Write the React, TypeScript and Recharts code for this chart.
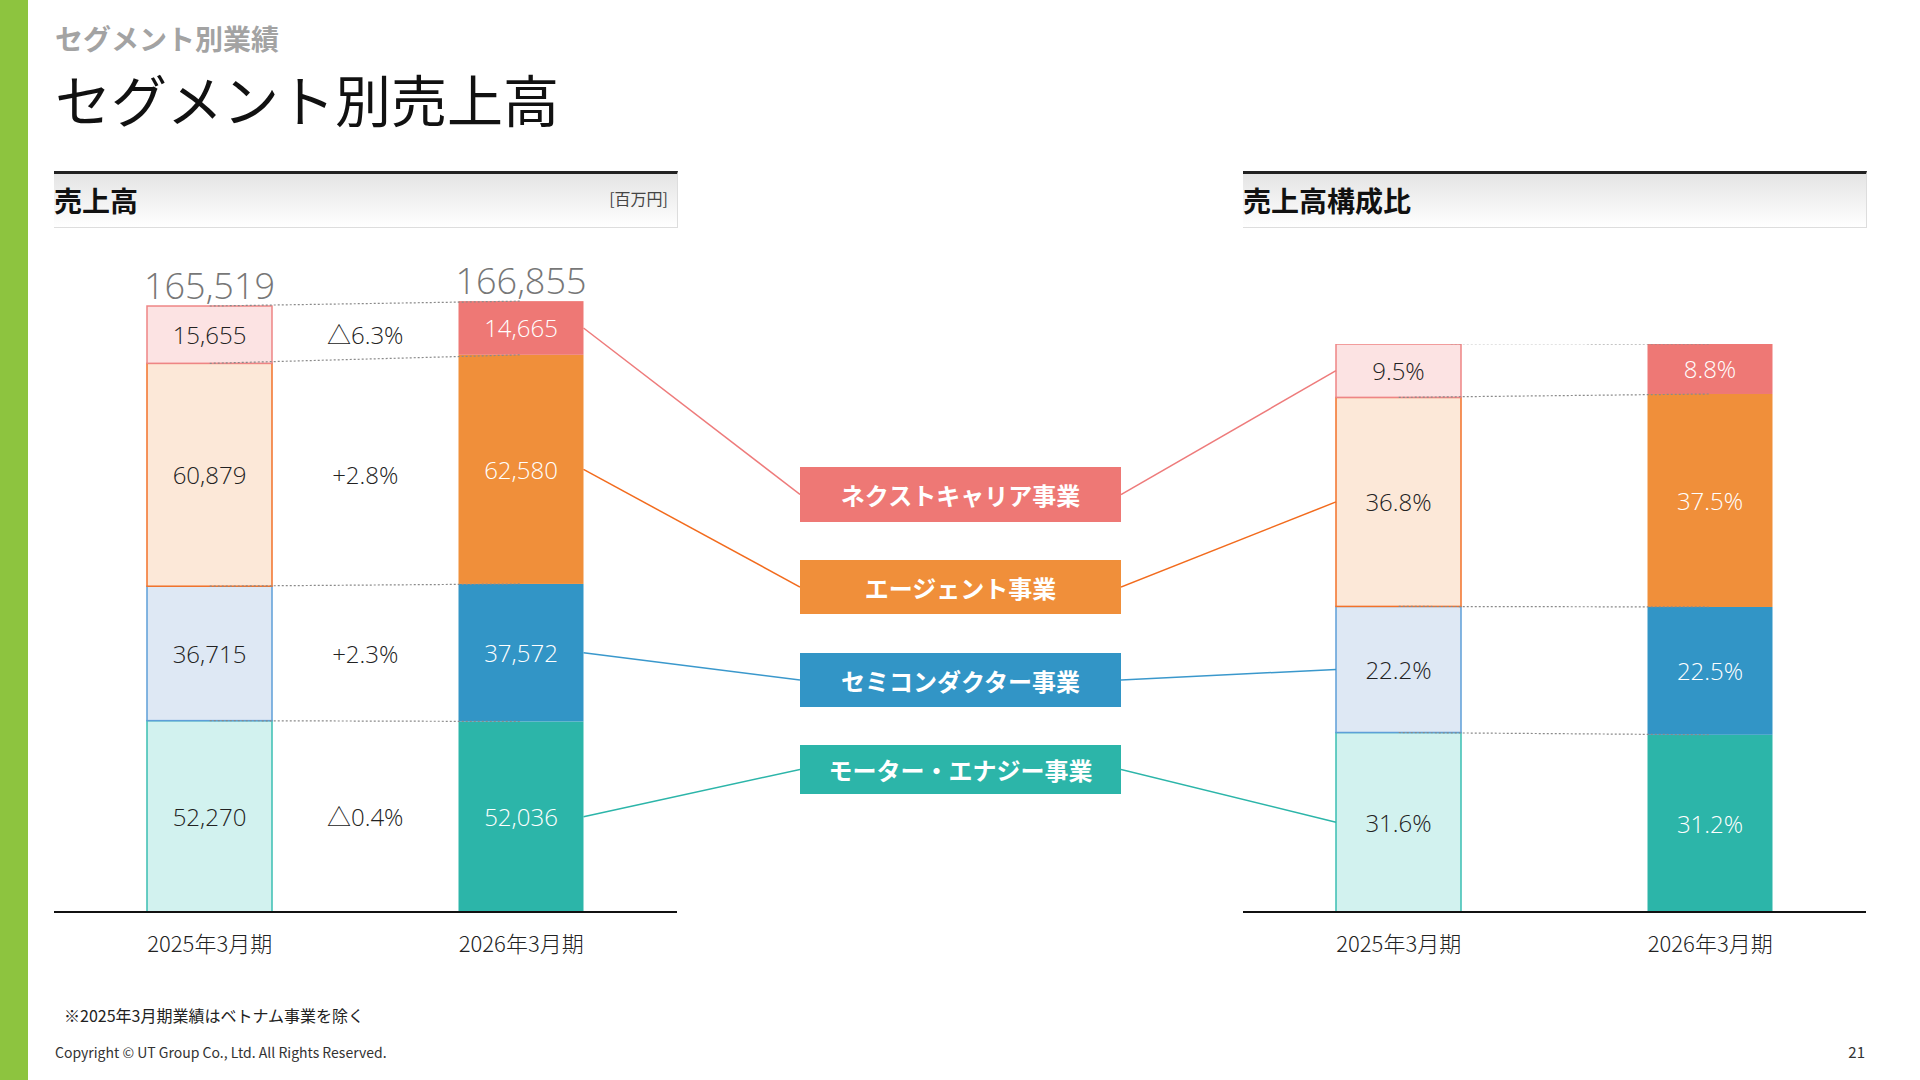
import { Bar, ComposedChart, LabelList, Line, XAxis, YAxis } from "recharts";

// 期
const years = ["2025年3月期", "2026年3月期"];

// セグメント（下から順）
const segmentNames = ["モーター・エナジー事業", "セミコンダクター事業", "エージェント事業", "ネクストキャリア事業"];

// 売上高 [百万円]
const motorSales = [52270, 52036];
const semiSales = [36715, 37572];
const agentSales = [60879, 62580];
const nextSales = [15655, 14665];
const totalSales = [165519, 166855];

// 前期比
const salesChange = ["△0.4%", "+2.3%", "+2.8%", "△6.3%"];

// 売上高構成比 [%]
const motorShare = [31.6, 31.2];
const semiShare = [22.2, 22.5];
const agentShare = [36.8, 37.5];
const nextShare = [9.5, 8.8];

const keys = ["motor", "semi", "agent", "next"];

const solidColors = ["#2CB5A9", "#3295C6", "#F08F3A", "#EE7875"];
const lightColors = ["#D2F2EF", "#DEE8F4", "#FCE8D8", "#FCE3E3"];
const strokeColors = ["#3BBFB3", "#5E9FD8", "#F2722A", "#EE8585"];
const lineColors = ["#2CB5A9", "#3A98CC", "#F26B1D", "#EE7B7B"];

const FONT = "'Noto Sans CJK JP', 'Noto Sans', sans-serif";
const NUM_FONT = "'Open Sans', 'Noto Sans CJK JP', sans-serif";

// layout
const CHART_TOP = 240;
const CHART_H = 720;
const LEFT_X = 54;
const LEFT_W = 746;
const RIGHT_X = 1121;
const RIGHT_W = 745;
const BOX_X = 800;
const BOX_W = 321;
const boxTops = [745, 653, 560, 467];
const boxHeights = [49, 54, 54, 55];
const HALF_BAND = 155.75;

function buildRows(series: number[][]) {
  return years.map((year, i) => {
    const row: Record<string, number | string> = { year };
    let cum = 0;
    series.forEach((s, k) => {
      row[keys[k]] = s[i];
      cum += s[i];
      row["c" + k] = cum;
    });
    return row;
  });
}

const salesRows = buildRows([motorSales, semiSales, agentSales, nextSales]);
const shareRows = buildRows([motorShare, semiShare, agentShare, nextShare]);
const salesSeries = [motorSales, semiSales, agentSales, nextSales];
const shareSeries = [motorShare, semiShare, agentShare, nextShare];

const fmt = (v: number) => v.toLocaleString("en-US");

function segmentShape(k: number, side: "left" | "right") {
  return (props: any) => {
    const { x, y, width, height, index } = props;
    const solid = index === 1;
    const boxY = boxTops[k] + boxHeights[k] / 2 - CHART_TOP;
    let connector = null;
    if (side === "left" && index === 1) {
      connector = (
        <line x1={x + width} y1={y + height / 2} x2={LEFT_W} y2={boxY} stroke={lineColors[k]} strokeWidth={1.5} />
      );
    }
    if (side === "right" && index === 0) {
      connector = <line x1={0} y1={boxY} x2={x} y2={y + height / 2} stroke={lineColors[k]} strokeWidth={1.5} />;
    }
    return (
      <g>
        <rect
          x={x}
          y={y}
          width={width}
          height={height}
          fill={solid ? solidColors[k] : lightColors[k]}
          stroke={solid ? "none" : strokeColors[k]}
          strokeWidth={1.5}
        />
        {connector}
      </g>
    );
  };
}

function segmentLabel(texts: string[]) {
  return (props: any) => {
    const { x, y, width, height, index } = props;
    return (
      <text
        x={Number(x) + Number(width) / 2}
        y={Number(y) + Number(height) / 2}
        textAnchor="middle"
        dominantBaseline="central"
        fill={index === 1 ? "#ffffff" : "#222222"}
        fontSize={24}
        fontWeight={300}
        fontFamily={NUM_FONT}
      >
        {texts[index]}
      </text>
    );
  };
}

function changeLabel(k: number) {
  return (props: any) => {
    const { x, y, width, height, index } = props;
    if (index !== 0) return null;
    return (
      <text
        x={Number(x) + Number(width) / 2 + HALF_BAND}
        y={Number(y) + Number(height) / 2}
        textAnchor="middle"
        dominantBaseline="central"
        fill="#222222"
        fontSize={24}
        fontWeight={300}
        fontFamily={NUM_FONT}
      >
        {salesChange[k]}
      </text>
    );
  };
}

function totalLabel(props: any) {
  const { x, y, width, index } = props;
  return (
    <text
      x={Number(x) + Number(width) / 2}
      y={Number(y) - 21}
      textAnchor="middle"
      dominantBaseline="central"
      fill="#777777"
      fontSize={36}
      fontWeight={300}
      fontFamily={NUM_FONT}
    >
      {fmt(totalSales[index])}
    </text>
  );
}

function YearTick(props: any) {
  const { x, y, payload } = props;
  return (
    <text x={x} y={y + 30} textAnchor="middle" dominantBaseline="central" fill="#222" fontSize={22} fontWeight={300} fontFamily={FONT}>
      {payload.value}
    </text>
  );
}

function Connectors() {
  return keys.map((_, k) => (
    <Line
      key={"c" + k}
      dataKey={"c" + k}
      stroke="#8a8a8a"
      strokeWidth={1.2}
      strokeDasharray="2 2"
      dot={false}
      activeDot={false}
      isAnimationActive={false}
    />
  ));
}

function SectionHeader({ x, title, unit }: { x: number; title: string; unit?: string }) {
  return (
    <div
      style={{
        position: "absolute",
        left: x,
        top: 171,
        width: 624,
        height: 57,
        boxSizing: "border-box",
        borderTop: "3px solid #222",
        borderBottom: "1px solid #ddd",
        borderRight: "1px solid #ddd",
        background: "linear-gradient(#e4e4e4, #ffffff)",
      }}
    >
      <div style={{ position: "absolute", left: 0, top: 6, fontSize: 28, fontWeight: 700, lineHeight: "40px", color: "#111" }}>
        {title}
      </div>
      {unit && (
        <div style={{ position: "absolute", right: 9, top: 12, fontSize: 16, lineHeight: "24px", color: "#444" }}>{unit}</div>
      )}
    </div>
  );
}

export default function App() {
  return (
    <div
      style={{
        position: "absolute",
        left: 0,
        top: 0,
        width: 1920,
        height: 1080,
        background: "#fff",
        fontFamily: FONT,
        overflow: "hidden",
      }}
    >
      <div style={{ position: "absolute", left: 0, top: 0, width: 28, height: 1080, background: "#8DC43F" }} />
      <div style={{ position: "absolute", left: 55, top: 22, fontSize: 28, lineHeight: "32px", fontWeight: 700, color: "#a3a3a3" }}>
        セグメント別業績
      </div>
      <div style={{ position: "absolute", left: 55, top: 68, fontSize: 56, lineHeight: "60px", fontWeight: 400, color: "#111" }}>
        セグメント別売上高
      </div>

      <SectionHeader x={54} title="売上高" unit="[百万円]" />
      <SectionHeader x={1243} title="売上高構成比" />

      <div style={{ position: "absolute", left: LEFT_X, top: CHART_TOP }}>
        <ComposedChart
          width={LEFT_W}
          height={CHART_H}
          data={salesRows}
          margin={{ top: 13, right: LEFT_W - 623, left: 0, bottom: 0 }}
          barSize={125}
          barCategoryGap={0}
        >
          <XAxis
            dataKey="year"
            height={48}
            interval={0}
            tickLine={false}
            tickSize={0}
            tickMargin={0}
            axisLine={{ stroke: "#111", strokeWidth: 2 }}
            tick={<YearTick />}
          />
          <YAxis hide domain={[0, 180000]} allowDataOverflow />
          {Connectors()}
          {keys.map((key, k) => (
            <Bar key={key} dataKey={key} stackId="s" isAnimationActive={false} shape={segmentShape(k, "left")}>
              <LabelList content={segmentLabel(salesSeries[k].map(fmt))} />
              <LabelList content={changeLabel(k)} />
              {k === 3 && <LabelList content={totalLabel} />}
            </Bar>
          ))}
        </ComposedChart>
      </div>

      <div style={{ position: "absolute", left: RIGHT_X, top: CHART_TOP }}>
        <ComposedChart
          width={RIGHT_W}
          height={CHART_H}
          data={shareRows}
          margin={{ top: 104, right: 0, left: RIGHT_W - 623, bottom: 0 }}
          barSize={125}
          barCategoryGap={0}
        >
          <XAxis
            dataKey="year"
            height={48}
            interval={0}
            tickLine={false}
            tickSize={0}
            tickMargin={0}
            axisLine={{ stroke: "#111", strokeWidth: 2 }}
            tick={<YearTick />}
          />
          <YAxis hide domain={[0, 100]} allowDataOverflow />
          {Connectors()}
          {keys.map((key, k) => (
            <Bar key={key} dataKey={key} stackId="s" isAnimationActive={false} shape={segmentShape(k, "right")}>
              <LabelList content={segmentLabel(shareSeries[k].map((v) => v.toFixed(1) + "%"))} />
            </Bar>
          ))}
        </ComposedChart>
      </div>

      {segmentNames.map((name, k) => (
        <div
          key={name}
          style={{
            position: "absolute",
            left: BOX_X,
            top: boxTops[k],
            width: BOX_W,
            height: boxHeights[k],
            background: solidColors[k],
            color: "#fff",
            fontSize: 24,
            fontWeight: 700,
            display: "flex",
            alignItems: "center",
            justifyContent: "center",
          }}
        >
          {name}
        </div>
      ))}

      <div style={{ position: "absolute", left: 64, top: 1003, fontSize: 16, lineHeight: "24px", color: "#222" }}>
        ※2025年3月期業績はベトナム事業を除く
      </div>
      <div style={{ position: "absolute", left: 55, top: 1042, fontSize: 14, lineHeight: "20px", color: "#333" }}>
        Copyright © UT Group Co., Ltd. All Rights Reserved.
      </div>
      <div style={{ position: "absolute", right: 55, top: 1042, fontSize: 15, lineHeight: "20px", color: "#333" }}>21</div>
    </div>
  );
}
